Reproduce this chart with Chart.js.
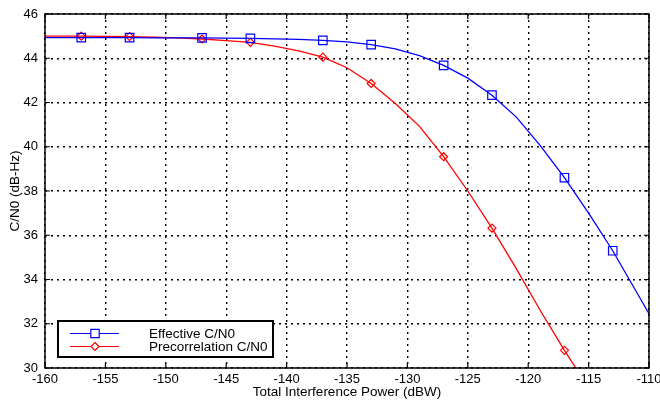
<!DOCTYPE html>
<html>
<head>
<meta charset="utf-8">
<script src="https://cdn.jsdelivr.net/npm/chart.js@4/dist/chart.umd.min.js"></script>
<style>
  html, body { margin: 0; padding: 0; background: #fff; }
  #wrap { width: 660px; height: 402px; }
</style>
</head>
<body>
<div id="wrap"><canvas id="cnoChart" width="660" height="402"></canvas></div>
<script>
// interference power samples (dBW)
const powerDbw = [-161, -159, -157, -155, -153, -151, -149, -147, -145, -143, -141, -139, -137, -135,
                  -133, -131, -129, -127, -125, -123, -121, -119, -117, -115, -113, -111, -109];

// C/N0 (dB-Hz) at each sample
const effectiveCn0 = [44.93, 44.93, 44.93, 44.93, 44.93, 44.92, 44.92, 44.92, 44.91, 44.90, 44.88, 44.85, 44.81, 44.74,
                      44.62, 44.42, 44.12, 43.68, 43.10, 42.33, 41.35, 40.05, 38.60, 37.00, 35.30, 33.40, 31.50];
const precorrCn0 = [45.00, 45.00, 45.00, 44.99, 44.98, 44.95, 44.92, 44.87, 44.80, 44.72, 44.55, 44.33, 44.05, 43.57,
                    42.86, 41.95, 40.92, 39.55, 38.00, 36.32, 34.50, 32.60, 30.80, 29.10, 27.40, 25.70, 24.00];

// samples that carry a marker
const markedPower = [-157, -153, -147, -143, -137, -133, -127, -123, -117, -113];

const xTicks = [-160, -155, -150, -145, -140, -135, -130, -125, -120, -115, -110];
const yTicks = [30, 32, 34, 36, 38, 40, 42, 44, 46];

const seriesNames = ['Effective C/N0', 'Precorrelation C/N0'];
const BLUE = '#0000ff';
const RED = '#ff0000';

function toPoints(ys) {
    return powerDbw.map((x, i) => ({ x: x, y: ys[i] }));
}

function markerRadius(r) {
    return powerDbw.map(x => markedPower.includes(x) ? r : 0);
}

// matlab-like frame: solid box, inward ticks, boxed legend
const framePlugin = {
    id: 'frame',
    afterDatasetsDraw(chart) {
        const { ctx, chartArea: a, scales } = chart;
        ctx.save();
        ctx.strokeStyle = '#000';
        ctx.lineWidth = 1.5;
        ctx.strokeRect(a.left, a.top, a.right - a.left, a.bottom - a.top);

        const tl = 5;
        ctx.lineWidth = 1.2;
        ctx.beginPath();
        xTicks.forEach(v => {
            const px = scales.x.getPixelForValue(v);
            ctx.moveTo(px, a.bottom); ctx.lineTo(px, a.bottom - tl);
            ctx.moveTo(px, a.top); ctx.lineTo(px, a.top + tl);
        });
        yTicks.forEach(v => {
            const py = scales.y.getPixelForValue(v);
            ctx.moveTo(a.left, py); ctx.lineTo(a.left + tl, py);
            ctx.moveTo(a.right, py); ctx.lineTo(a.right - tl, py);
        });
        ctx.stroke();

        // legend
        const lx = 58, ly = 321, lw = 215, lh = 36;
        ctx.fillStyle = '#fff';
        ctx.fillRect(lx, ly, lw, lh);
        ctx.lineWidth = 2;
        ctx.strokeRect(lx, ly, lw, lh);

        const rows = [
            { name: seriesNames[0], color: BLUE, y: 333.5, style: 'square' },
            { name: seriesNames[1], color: RED, y: 346.5, style: 'diamond' }
        ];
        ctx.font = '13.5px "Liberation Sans", Arial, sans-serif';
        ctx.textBaseline = 'middle';
        ctx.textAlign = 'left';
        rows.forEach(r => {
            ctx.strokeStyle = r.color;
            ctx.lineWidth = 1.2;
            ctx.beginPath();
            ctx.moveTo(70, r.y); ctx.lineTo(119, r.y);
            ctx.stroke();
            ctx.beginPath();
            if (r.style === 'square') {
                ctx.rect(95 - 4.2, r.y - 4.2, 8.4, 8.4);
            } else {
                ctx.moveTo(95, r.y - 4); ctx.lineTo(99, r.y);
                ctx.lineTo(95, r.y + 4); ctx.lineTo(91, r.y);
                ctx.closePath();
            }
            ctx.fillStyle = '#fff';
            ctx.fill();
            ctx.stroke();
            ctx.fillStyle = '#000';
            ctx.fillText(r.name, 149, r.y + 0.5);
        });
        ctx.restore();
    }
};

const tickFont = { family: '"Liberation Sans", Arial, sans-serif', size: 13 };
const titleFont = { family: '"Liberation Sans", Arial, sans-serif', size: 13.5 };

new Chart(document.getElementById('cnoChart'), {
    type: 'line',
    data: {
        datasets: [{
            label: seriesNames[0],
            data: toPoints(effectiveCn0),
            borderColor: BLUE,
            borderWidth: 1.3,
            pointStyle: 'rect',
            pointRadius: markerRadius(6),
            pointBorderColor: BLUE,
            pointBorderWidth: 1.2,
            pointBackgroundColor: 'rgba(255,255,255,0)',
            tension: 0,
            fill: false
        }, {
            label: seriesNames[1],
            data: toPoints(precorrCn0),
            borderColor: RED,
            borderWidth: 1.3,
            pointStyle: 'rectRot',
            pointRadius: markerRadius(4),
            pointBorderColor: RED,
            pointBorderWidth: 1.2,
            pointBackgroundColor: 'rgba(255,255,255,0)',
            tension: 0,
            fill: false
        }]
    },
    options: {
        responsive: false,
        animation: false,
        events: [],
        layout: { padding: { top: 14, right: 11, left: 0, bottom: 0 } },
        plugins: {
            legend: { display: false },
            tooltip: { enabled: false }
        },
        scales: {
            x: {
                type: 'linear',
                min: -160,
                max: -110,
                afterBuildTicks: s => { s.ticks = xTicks.map(v => ({ value: v })); },
                afterFit: s => { s.height = 34; s.paddingLeft = 0; s.paddingRight = 0; },
                ticks: { color: '#000', font: tickFont, padding: 4, maxRotation: 0, autoSkip: false },
                grid: { color: '#000', lineWidth: 1.4, drawTicks: false },
                border: { display: false, dash: [2, 4] },
                title: {
                    display: true,
                    text: 'Total Interference Power (dBW)',
                    color: '#000',
                    font: titleFont,
                    padding: { top: 0, bottom: 2 }
                }
            },
            y: {
                type: 'linear',
                min: 30,
                max: 46,
                afterBuildTicks: s => { s.ticks = yTicks.map(v => ({ value: v })); },
                afterFit: s => { s.width = 45; s.paddingTop = 0; s.paddingBottom = 0; },
                ticks: { color: '#000', font: tickFont, padding: 7 },
                grid: { color: '#000', lineWidth: 1.4, drawTicks: false },
                border: { display: false, dash: [2, 4] },
                title: {
                    display: true,
                    text: 'C/N0 (dB-Hz)',
                    color: '#000',
                    font: titleFont,
                    padding: { top: 7, bottom: 0 }
                }
            }
        }
    },
    plugins: [framePlugin]
});
</script>
</body>
</html>
